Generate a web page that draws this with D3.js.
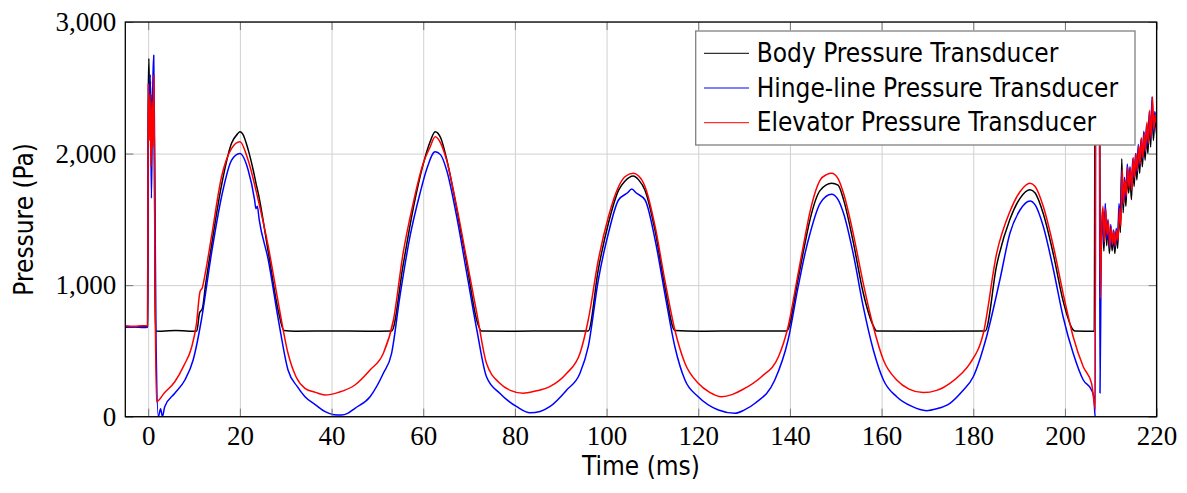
<!DOCTYPE html>
<html>
<head>
<meta charset="utf-8">
<script src="https://cdn.jsdelivr.net/npm/d3@7"></script>
<style>
  html, body { margin: 0; padding: 0; background: #fff; }
  svg { display: block; }
  .tick-label { font-family: "Liberation Serif", "Times New Roman", serif; font-size: 27px; fill: #000; }
  .sans { font-family: "DejaVu Sans Condensed", "DejaVu Sans", sans-serif; font-stretch: condensed; font-size: 26px; fill: #000; }
</style>
</head>
<body>
<svg id="chart"></svg>
<script>
// series names (legend order)
const seriesNames = ["Body Pressure Transducer", "Hinge-line Pressure Transducer", "Elevator Pressure Transducer"]
const seriesColors = ["#000000", "#0000ff", "#ff0000"]

// tick values
const xTicks = [0, 20, 40, 60, 80, 100, 120, 140, 160, 180, 200, 220]
const yTicks = [0, 1000, 2000, 3000]

// Body pressure transducer (time in ms, pressure in Pa)
const bodyTime = [-5, -3, -1, -0.15, 0, 0.15, 0.3, 0.5, 0.7, 0.9, 1.1, 1.3, 1.5, 1.6, 3, 6, 9, 10.6, 11.2, 11.8, 12.5, 13.8, 16, 18.2, 19.5, 20, 20.6, 21.8, 23, 23.6, 24, 26.2, 28.4, 29.6, 32, 40, 48, 53.1, 55.6, 57.8, 60, 61.5, 62.6, 63.8, 65.1, 67.3, 69.5, 71.7, 72.7, 80, 88, 96, 98.2, 100.4, 102.6, 104, 105.8, 107, 108.4, 110.6, 112.7, 114.9, 120, 130, 139.3, 141.8, 143.3, 144.4, 146.6, 149.1, 150.5, 151.7, 153.8, 156, 158.2, 158.9, 170, 182.6, 185.1, 188, 190.2, 192.4, 193.5, 195.3, 197.5, 199.6, 201.8, 202.2, 206.4, 206.6, 207.5, 207.7, 208.2, 208.5, 208.8, 209.1, 209.4, 209.7, 210.0, 210.3, 210.6, 210.9, 211.2, 211.5, 211.8, 212.1, 212.4, 212.7, 213.0, 213.3, 213.6, 213.9, 214.2, 214.5, 214.8, 215.1, 215.4, 215.7, 216.0, 216.3, 216.6, 216.9, 217.2, 217.5, 217.8, 218.1, 218.4, 218.7, 219.0, 219.3, 219.6, 220]
const bodyPressure = [688, 684, 688, 686, 2400, 2723, 2300, 2550, 2000, 2450, 2100, 2300, 900, 652, 650, 655, 650, 652, 790, 820, 1000, 1300, 1760, 2080, 2150, 2166, 2150, 2030, 1860, 1760, 1700, 1250, 800, 655, 650, 652, 650, 652, 1150, 1580, 1920, 2090, 2166, 2120, 1960, 1580, 1160, 730, 652, 650, 652, 652, 1120, 1470, 1720, 1790, 1830, 1800, 1720, 1410, 990, 655, 650, 652, 652, 1050, 1320, 1500, 1720, 1775, 1760, 1650, 1330, 940, 690, 652, 650, 652, 1150, 1500, 1660, 1725, 1700, 1540, 1230, 880, 660, 652, 650, 2850, 2850, 1300, 1500, 1260, 1560, 1300, 1450, 1240, 1400, 1260, 1380, 1240, 1400, 1280, 1550, 1400, 1960, 1550, 1760, 1600, 1850, 1700, 1830, 1650, 1900, 1750, 1950, 1800, 2000, 1850, 2050, 1900, 2100, 1950, 2150, 2000, 2250, 2050, 2350, 2100, 2250, 2150]

// Hinge-line pressure transducer
const hingeTime = [-5, -3, -1, -0.1, 0.05, 0.25, 0.45, 0.7, 0.9, 1.05, 1.2, 1.4, 1.7, 2.2, 2.7, 3.1, 3.6, 5.8, 8, 9.8, 11.6, 13.8, 16, 18.2, 20, 21.8, 23.2, 23.5, 23.8, 24.2, 26.2, 28.4, 30.5, 32.5, 34.2, 36.5, 38.6, 40.5, 42.2, 43.5, 45.1, 48.4, 51.3, 53.1, 54.9, 57.1, 59.3, 60.7, 62.6, 63.8, 65.1, 67.3, 69.5, 71.7, 73.8, 76.7, 80.4, 83.3, 85.5, 87.6, 91.3, 94.2, 96, 98.2, 100.4, 102.6, 104.5, 105.5, 106.5, 108.4, 110.6, 112.7, 114.9, 117.1, 120, 124.4, 128, 130, 132.4, 136.7, 139.6, 141.8, 143.3, 144.4, 146.6, 149.1, 150.5, 151.7, 153.8, 156, 158.2, 160.4, 163.3, 166.5, 169.8, 172, 174.9, 177.5, 180, 182.9, 185.8, 188, 190.2, 192.4, 193.5, 195.3, 197.5, 199.6, 201.8, 204, 205.8, 206.3, 206.6, 206.7, 207.5, 207.65, 207.9, 208.2, 208.5, 208.8, 209.1, 209.4, 209.7, 210.0, 210.3, 210.6, 210.9, 211.2, 211.5, 211.8, 212.1, 212.4, 212.7, 213.0, 213.3, 213.6, 213.9, 214.2, 214.5, 214.8, 215.1, 215.4, 215.7, 216.0, 216.3, 216.6, 216.9, 217.2, 217.5, 217.8, 218.1, 218.4, 218.7, 219.0, 219.3, 219.6, 220]
const hingePressure = [680, 682, 678, 680, 2500, 2400, 2600, 1660, 2300, 2600, 2748, 2000, 600, 0, 60, 0, 76, 178, 279, 431, 735, 1241, 1672, 1950, 2000, 1875, 1650, 1580, 1600, 1500, 1191, 735, 355, 230, 152, 90, 38, 15, 13, 25, 64, 152, 330, 482, 912, 1368, 1698, 1875, 2014, 1990, 1875, 1520, 1090, 659, 304, 178, 76, 30, 40, 76, 203, 330, 532, 1039, 1394, 1647, 1700, 1730, 1700, 1647, 1343, 938, 532, 279, 152, 51, 26, 50, 102, 279, 583, 988, 1241, 1394, 1622, 1690, 1650, 1546, 1241, 836, 507, 279, 152, 80, 46, 60, 102, 190, 304, 608, 1039, 1394, 1571, 1640, 1610, 1444, 1115, 760, 482, 279, 203, 150, 0, 2850, 2850, 180, 1200, 1580, 1320, 1620, 1350, 1500, 1280, 1460, 1300, 1420, 1290, 1430, 1330, 1620, 1460, 1870, 1620, 1820, 1660, 1920, 1760, 1900, 1730, 1960, 1810, 2000, 1860, 2070, 1910, 2110, 1960, 2170, 2010, 2220, 2060, 2320, 2110, 2430, 2160, 2320, 2220]

// Elevator pressure transducer
const elevatorTime = [-5, -3, -1, -0.1, 0, 0.2, 0.4, 0.6, 0.8, 1.0, 1.25, 1.45, 1.8, 3.5, 5.8, 7.8, 9.5, 10.5, 11.3, 11.8, 12.5, 13.8, 16, 18.2, 20, 21.8, 24, 26.2, 28.4, 30.5, 32.3, 34.2, 36.5, 38.6, 41.5, 45.1, 48.4, 51.3, 53.5, 55.6, 57.8, 60, 61.5, 62.6, 63.8, 65.1, 67.3, 69.5, 71.7, 73.8, 76.7, 79, 81.8, 84.5, 87.6, 91.3, 94.2, 96, 98.2, 100.4, 102.6, 104, 105.8, 107, 108.4, 110.6, 112.7, 114.9, 117.1, 120, 122.5, 125.1, 127.5, 129.5, 133.8, 137.5, 139.6, 141.8, 143.3, 144.4, 146.6, 148, 149.1, 150.5, 151.7, 153.8, 156, 158.2, 160.4, 163.3, 166, 169.1, 172, 174.9, 177.5, 179.3, 182.2, 185.1, 188, 190.2, 192.4, 193.5, 195.3, 197.5, 199.6, 201.8, 204, 205.8, 206.4, 206.6, 206.7, 207.5, 207.7, 208.0, 208.3, 208.6, 208.9, 209.2, 209.5, 209.8, 210.1, 210.4, 210.7, 211.0, 211.3, 211.6, 211.9, 212.2, 212.5, 212.8, 213.1, 213.4, 213.7, 214.0, 214.3, 214.6, 214.9, 215.2, 215.5, 215.8, 216.1, 216.4, 216.7, 217.0, 217.3, 217.6, 217.9, 218.2, 218.5, 218.8, 219.1, 219.4, 219.7, 220]
const elevatorPressure = [690, 688, 692, 690, 2533, 2100, 2450, 1900, 2400, 2050, 2596, 1200, 114, 180, 266, 390, 532, 700, 950, 980, 1100, 1368, 1824, 2040, 2090, 1950, 1647, 1292, 862, 482, 300, 216, 185, 165, 185, 241, 355, 482, 735, 1241, 1622, 1926, 2050, 2128, 2080, 1950, 1596, 1191, 786, 406, 254, 200, 178, 195, 228, 330, 482, 735, 1191, 1520, 1748, 1824, 1850, 1830, 1748, 1444, 1039, 659, 406, 254, 185, 152, 170, 203, 304, 456, 684, 1090, 1368, 1560, 1799, 1840, 1850, 1810, 1698, 1394, 1014, 684, 431, 279, 210, 183, 200, 254, 330, 406, 634, 1241, 1560, 1710, 1775, 1750, 1596, 1292, 938, 608, 380, 254, 102, 60, 2850, 2850, 900, 1400, 1600, 1330, 1580, 1380, 1480, 1290, 1440, 1310, 1410, 1300, 1420, 1340, 1580, 1450, 1880, 1620, 1800, 1680, 1900, 1740, 1890, 1720, 1970, 1820, 2000, 1870, 2060, 1920, 2120, 1970, 2160, 2020, 2240, 2080, 2330, 2120, 2430, 2180, 2300, 2230]

const series = [
    { name: seriesNames[0], color: seriesColors[0], t: bodyTime, p: bodyPressure },
    { name: seriesNames[1], color: seriesColors[1], t: hingeTime, p: hingePressure },
    { name: seriesNames[2], color: seriesColors[2], t: elevatorTime, p: elevatorPressure }
]

const w = 1187
const h = 493
const margin = { top: 22, right: 30.4, bottom: 76.3, left: 125.3 }
const width = w - margin.left - margin.right
const height = h - margin.top - margin.bottom

const x = d3.scaleLinear().domain([-5, 220]).range([0, width])
const y = d3.scaleLinear().domain([0, 3000]).range([height, 0])

const svg = d3.select("#chart").attr("width", w).attr("height", h)
const chart = svg.append("g").attr("transform", `translate(${margin.left}, ${margin.top})`)

// grid
chart.append("g")
    .attr("transform", `translate(0, ${height})`)
    .call(d3.axisBottom(x).tickValues(xTicks).tickSize(-height).tickFormat(""))
    .call(g => g.select(".domain").remove())
    .call(g => g.selectAll("line").attr("stroke", "#d0d0d0").attr("stroke-width", 1))
chart.append("g")
    .call(d3.axisLeft(y).tickValues(yTicks).tickSize(-width).tickFormat(""))
    .call(g => g.select(".domain").remove())
    .call(g => g.selectAll("line").attr("stroke", "#d0d0d0").attr("stroke-width", 1))

// data lines
chart.append("clipPath").attr("id", "plot-clip")
    .append("rect").attr("width", width).attr("height", height)

const line = d3.line()
    .x(d => x(d[0]))
    .y(d => y(d[1]))
    .curve(d3.curveMonotoneX)

chart.append("g")
    .attr("clip-path", "url(#plot-clip)")
    .selectAll("path")
    .data(series)
    .enter()
    .append("path")
    .attr("fill", "none")
    .attr("stroke", d => d.color)
    .attr("stroke-width", 1.5)
    .attr("stroke-linejoin", "round")
    .attr("d", d => line(d.t.map((t, i) => [t, d.p[i]])))

// ticks on all four sides, pointing inwards
const tickColor = "#777"
const styleTicks = g => {
    g.select(".domain").remove()
    g.selectAll("line").attr("stroke", tickColor).attr("stroke-width", 1)
}
chart.append("g")
    .attr("transform", `translate(0, ${height})`)
    .call(d3.axisBottom(x).tickValues(xTicks).tickSizeInner(-8).tickSizeOuter(0).tickPadding(9))
    .call(styleTicks)
    .call(g => g.selectAll("text").attr("class", "tick-label").attr("font-family", null).attr("font-size", null))
chart.append("g")
    .call(d3.axisTop(x).tickValues(xTicks).tickSizeInner(-8).tickSizeOuter(0).tickFormat(""))
    .call(styleTicks)
chart.append("g")
    .call(d3.axisLeft(y).tickValues(yTicks).tickSizeInner(-8).tickSizeOuter(0).tickPadding(9).tickFormat(d3.format(",")))
    .call(styleTicks)
    .call(g => g.selectAll("text").attr("class", "tick-label").attr("font-family", null).attr("font-size", null))
chart.append("g")
    .attr("transform", `translate(${width}, 0)`)
    .call(d3.axisRight(y).tickValues(yTicks).tickSizeInner(-8).tickSizeOuter(0).tickFormat(""))
    .call(styleTicks)

// frame
chart.append("rect")
    .attr("width", width)
    .attr("height", height)
    .attr("fill", "none")
    .attr("stroke", "#000")
    .attr("stroke-width", 1.3)

// axis titles
chart.append("text")
    .attr("class", "sans")
    .attr("x", width / 2)
    .attr("y", height + 58)
    .style("text-anchor", "middle")
    .text("Time (ms)")

chart.append("text")
    .attr("class", "sans")
    .attr("transform", `translate(${33 - margin.left}, ${height / 2}) rotate(-90)`)
    .style("text-anchor", "middle")
    .text("Pressure (Pa)")

// legend
const legend = chart.append("g")
    .attr("transform", `translate(${695.7 - margin.left}, ${31 - margin.top})`)

legend.append("rect")
    .attr("width", 439.3)
    .attr("height", 114)
    .attr("fill", "#fff")
    .attr("stroke", "#808080")
    .attr("stroke-width", 1.3)

legend.selectAll(".legend-line")
    .data(series)
    .enter()
    .append("line")
    .attr("x1", 8.3)
    .attr("x2", 53.3)
    .attr("y1", (d, i) => 22.3 + 34.7 * i)
    .attr("y2", (d, i) => 22.3 + 34.7 * i)
    .attr("stroke", d => d.color)
    .attr("stroke-width", 1)

legend.selectAll(".legend-text")
    .data(series)
    .enter()
    .append("text")
    .attr("class", "sans")
    .attr("x", 61)
    .attr("y", (d, i) => 31 + 34.7 * i)
    .text(d => d.name)
</script>
</body>
</html>
